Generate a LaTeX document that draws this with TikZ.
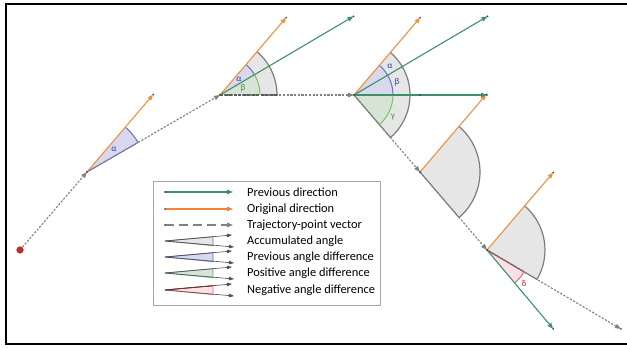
\documentclass[tikz,border=0pt]{standalone}
\usepackage{fontspec}
\setmainfont{Carlito}
\usetikzlibrary{arrows.meta}
\definecolor{dirgreen}{RGB}{61,145,104}
\definecolor{dirorange}{RGB}{240,145,65}
\definecolor{trajgray}{RGB}{128,128,128}
\definecolor{accfill}{RGB}{230,230,230}
\definecolor{accline}{RGB}{125,125,125}
\definecolor{prevfill}{RGB}{216,216,238}
\definecolor{prevline}{RGB}{105,112,192}
\definecolor{prevtext}{RGB}{45,70,170}
\definecolor{posfill}{RGB}{214,228,214}
\definecolor{posline}{RGB}{125,195,100}
\definecolor{postext}{RGB}{60,150,70}
\definecolor{negfill}{RGB}{252,224,228}
\definecolor{negline}{RGB}{236,105,115}
\definecolor{negtext}{RGB}{215,30,50}
\definecolor{startred}{RGB}{205,40,40}
\newcommand{\angsector}[6]{%
  \fill[#1] (#3) -- ++(#4:#6) arc[start angle=#4, end angle=#5, radius=#6] -- cycle;
  \draw[#2] (#3) ++(#4:#6) arc[start angle=#4, end angle=#5, radius=#6];}

\begin{document}
\begin{tikzpicture}[x=1pt,y=1pt,
  tip/.style={-{Triangle[length=6pt,width=4.5pt]}},
  prevdir/.style={draw=dirgreen, line width=1.1pt, tip},
  origdir/.style={draw=dirorange, line width=1.1pt, tip},
  traj/.style={draw=trajgray, line width=1.1pt, dash pattern=on 2.2pt off 1.5pt, tip},
  endpt/.style={fill=black!80},
  greek/.style={font=\fontsize{9}{10}\selectfont, inner sep=0pt},
  legtext/.style={font=\fontsize{12.4}{14}\selectfont, anchor=west, inner sep=0pt},
  legarrow/.style={draw=black!70, line width=0.6pt, -{Triangle[length=5pt,width=3.5pt]}}]
\useasboundingbox (0,0) rectangle (627,348);
\draw[line width=2.2pt] (627,344) -- (6,344) -- (6,4) -- (627,4);

\coordinate (S) at (20,98);
\coordinate (P1) at (87,176);
\coordinate (P2) at (220,253);
\coordinate (P3) at (354,253);
\coordinate (P4) at (420,176);
\coordinate (P5) at (487,98);
\coordinate (E) at (621,19);
\path (P1) ++(49.5:102) coordinate (O1);
\path (P2) ++(49.5:102) coordinate (O2);
\path (P3) ++(49.5:102) coordinate (O3);
\path (P4) ++(49.5:102) coordinate (O4);
\path (P5) ++(49.5:102) coordinate (O5);
\path (P2) ++(30.5:155) coordinate (G2);
\path (P3) ++(30.5:155) coordinate (G3);
\path (P3) ++(0:133) coordinate (H3);
\path (P3) ++(0:66) coordinate (M3);
\path (P5) ++(-50:103) coordinate (G5);

\angsector{prevfill}{prevline, line width=1pt}{P1}{30}{49.5}{59}
\draw[prevline, line width=1pt] (P1) -- ++(30:59);
\node[greek, text=prevtext] (a1) at (114,199) {α};

\angsector{accfill}{accline, line width=1.2pt}{P2}{0}{49.5}{57}
\angsector{prevfill}{prevline, line width=1pt}{P2}{30.5}{49.5}{40}
\angsector{posfill}{posline, line width=1pt}{P2}{0}{30.5}{40}
\node[greek, text=prevtext] (a2) at (239,269) {α};
\node[greek, text=postext] (b2) at (243,260) {β};

\angsector{accfill}{accline, line width=1.2pt}{P3}{-49.4}{49.5}{56}
\angsector{prevfill}{prevline, line width=1pt}{P3}{0}{49.5}{39}
\angsector{posfill}{posline, line width=1pt}{P3}{-49.4}{0}{39}
\draw[accline, line width=1.1pt] (P3) -- ++(-49.4:56);
\node[greek, text=prevtext] (a3) at (390,282) {α};
\node[greek, text=prevtext] (b3) at (397,266) {β};
\node[greek, text=postext] (c3) at (393,231) {γ};

\angsector{accfill}{accline, line width=1.2pt}{P4}{-49.4}{49.5}{60}
\draw[accline, line width=1.1pt] (P4) -- ++(-49.4:60);

\angsector{accfill}{accline, line width=1.2pt}{P5}{-30.5}{49.5}{58}
\angsector{negfill}{negline, line width=1pt}{P5}{-50}{-30.5}{43}
\draw[accline, line width=1.1pt] (P5) -- ++(-30.5:58);
\draw[negline!60!black, line width=1pt] (P5) -- ++(-30.5:43);
\node[greek, text=negtext] (d5) at (524,65) {δ};

\draw[traj] (S) -- (P1);
\draw[traj] (P1) -- (P2);
\draw[traj] (P2) -- (P3);
\draw[black!65, line width=1.6pt, dash pattern=on 3pt off 1.5pt] (P2) -- ++(0:57);
\draw[traj] (P3) -- (P4);
\draw[traj] (P4) -- (P5);
\draw[traj] (P5) -- (E);

\draw[origdir] (P1) -- (O1);
\draw[origdir] (P2) -- (O2);
\draw[origdir] (P3) -- (O3);
\draw[origdir] (P4) -- (O4);
\draw[origdir] (P5) -- (O5);
\draw[prevdir] (P2) -- (G2);
\draw[prevdir] (P3) -- (G3);
\draw[prevdir] (P3) -- (H3);
\draw[prevdir] (P5) -- (G5);

\fill[endpt] (P1) circle (1);
\fill[endpt] (P2) circle (1);
\fill[endpt] (P3) circle (1);
\fill[endpt] (P4) circle (1);
\fill[endpt] (P5) circle (1);
\fill[endpt] (E) circle (0.9);
\fill[endpt] (O1) circle (0.9);
\fill[endpt] (O2) circle (0.9);
\fill[endpt] (O3) circle (0.9);
\fill[endpt] (O4) circle (0.9);
\fill[endpt] (O5) circle (0.9);
\fill[endpt] (G2) circle (0.9);
\fill[endpt] (G3) circle (0.9);
\fill[endpt] (H3) circle (0.9);
\fill[endpt] (M3) circle (0.9);
\fill[endpt] (G5) circle (0.9);
\filldraw[fill=startred, draw=startred!70!black, line width=0.4pt] (S) circle (3.3);

\draw[black!35, line width=0.8pt] (153,43) rectangle (380,167);
\coordinate (l1a) at (165,156); \coordinate (l1b) at (233,156);
\coordinate (l2a) at (165,139); \coordinate (l2b) at (233,139);
\coordinate (l3a) at (165,123); \coordinate (l3b) at (233,123);
\draw[prevdir, line width=1.2pt] (l1a) -- (l1b);
\draw[origdir, draw=dirorange!90!red, line width=1.2pt] (l2a) -- (l2b);
\draw[trajgray, line width=1.4pt, dash pattern=on 9pt off 5pt, tip] (l3a) -- (l3b);
\fill[endpt] (l1a) circle (0.9);
\fill[endpt] (l2a) circle (0.9);
\fill[endpt] (l3a) circle (0.9);

\coordinate (l4a) at (165,107); \coordinate (l4u) at (232,113); \coordinate (l4l) at (234,101);
\filldraw[fill=accfill, draw=accline, line width=0.8pt] (l4a) -- (213,111.3) -- (213,102.4) -- cycle;
\draw[legarrow] (l4a) -- (l4u);
\draw[legarrow] (l4a) -- (l4l);
\coordinate (l5a) at (165,91); \coordinate (l5u) at (232,97); \coordinate (l5l) at (234,85);
\filldraw[fill=prevfill, draw=prevline, line width=0.8pt] (l5a) -- (213,95.3) -- (213,86.4) -- cycle;
\draw[legarrow] (l5a) -- (l5u);
\draw[legarrow] (l5a) -- (l5l);
\coordinate (l6a) at (165,75); \coordinate (l6u) at (232,81); \coordinate (l6l) at (234,69);
\filldraw[fill=posfill, draw=dirgreen!80, line width=0.8pt] (l6a) -- (213,79.3) -- (213,70.4) -- cycle;
\draw[legarrow] (l6a) -- (l6u);
\draw[legarrow] (l6a) -- (l6l);
\coordinate (l7a) at (165,58); \coordinate (l7u) at (232,64); \coordinate (l7l) at (234,52);
\filldraw[fill=negfill, draw=negline, line width=0.8pt] (l7a) -- (213,62.3) -- (213,53.4) -- cycle;
\draw[red!45!black, line width=0.8pt] (l7a) -- (213,62.3);
\draw[legarrow] (l7a) -- (l7u);
\draw[legarrow] (l7a) -- (l7l);

\node[legtext] (t1) at (247,156) {Previous direction};
\node[legtext] (t2) at (247,139) {Original direction};
\node[legtext] (t3) at (247,123) {Trajectory-point vector};
\node[legtext] (t4) at (247,107) {Accumulated angle};
\node[legtext] (t5) at (247,91) {Previous angle difference};
\node[legtext] (t6) at (247,75) {Positive angle difference};
\node[legtext] (t7) at (247,58) {Negative angle difference};
\end{tikzpicture}
\end{document}
